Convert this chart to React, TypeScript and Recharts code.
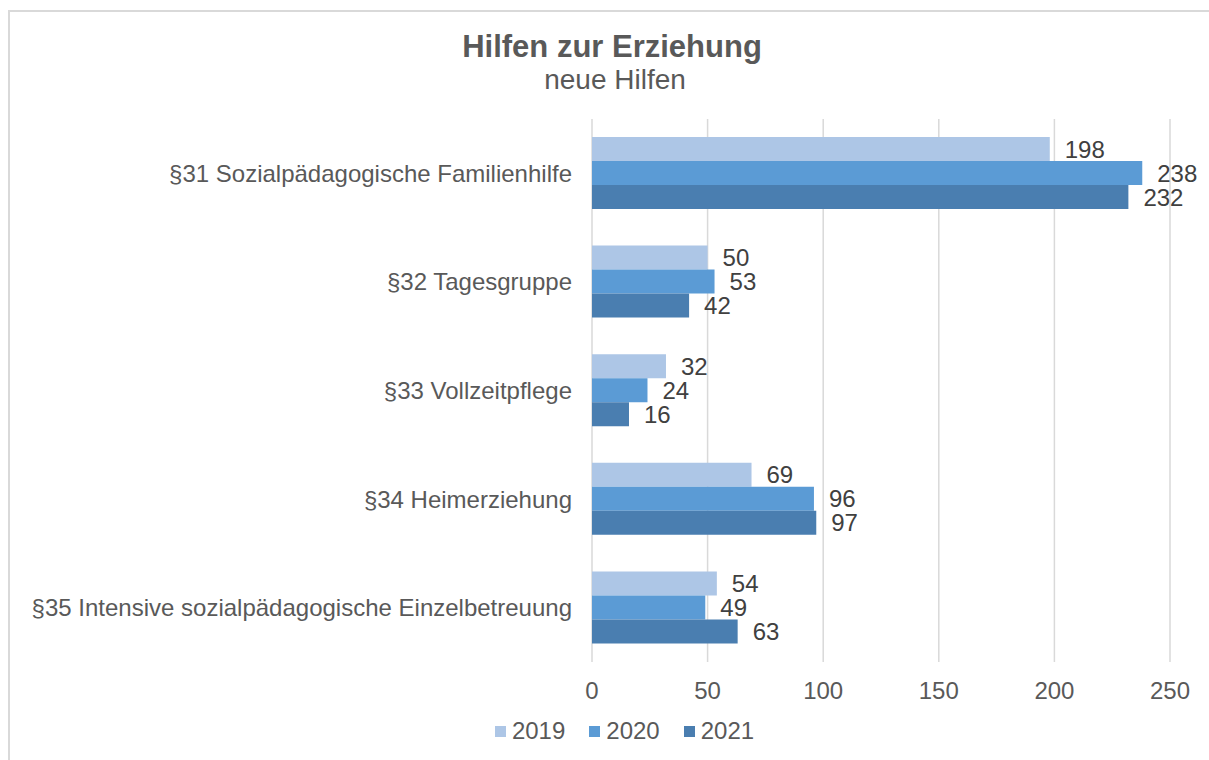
import React from 'react';
import {
  BarChart,
  Bar,
  XAxis,
  YAxis,
  CartesianGrid,
  Legend,
  LabelList,
} from 'recharts';

const categories = [
  '§31 Sozialpädagogische Familienhilfe',
  '§32 Tagesgruppe',
  '§33 Vollzeitpflege',
  '§34 Heimerziehung',
  '§35 Intensive sozialpädagogische Einzelbetreuung',
];
const values2019 = [198, 50, 32, 69, 54];
const values2020 = [238, 53, 24, 96, 49];
const values2021 = [232, 42, 16, 97, 63];
const xTicks = [0, 50, 100, 150, 200, 250];

const series = [
  { key: 'y2019', name: '2019', color: '#adc6e6' },
  { key: 'y2020', name: '2020', color: '#5b9bd5' },
  { key: 'y2021', name: '2021', color: '#4a7eb0' },
];

const FONT = '"Liberation Sans", Arial, sans-serif';

function LegendContent() {
  return (
    <div style={{ display: 'flex', justifyContent: 'center', alignItems: 'center', gap: 24, fontFamily: FONT, fontSize: 24, color: '#595959', lineHeight: '30px', paddingLeft: 40 }}>
      {series.map(s => (
        <div key={s.key} style={{ display: 'flex', alignItems: 'center' }}>
          <span style={{ display: 'inline-block', width: 11, height: 11, background: s.color, marginRight: 6 }} />
          <span>{s.name}</span>
        </div>
      ))}
    </div>
  );
}

export default function App() {
  const data = React.useMemo(
    () =>
      categories.map((name, i) => ({
        name,
        y2019: values2019[i],
        y2020: values2020[i],
        y2021: values2021[i],
      })),
    []
  );

  return (
    <div style={{ position: 'fixed', left: 0, top: 0, width: 1209, height: 760, overflow: 'hidden', background: '#fff' }}>
      <div style={{ position: 'absolute', left: 8, top: 10, width: 1240, height: 800, borderTop: '2px solid #d9d9d9', borderLeft: '2px solid #d9d9d9' }} />
      <div style={{ position: 'absolute', left: 0, width: 1224, top: 31, textAlign: 'center', fontFamily: FONT, fontSize: 31, fontWeight: 'bold', lineHeight: '31px', color: '#595959' }}>
        Hilfen zur Erziehung
      </div>
      <div style={{ position: 'absolute', left: 0, width: 1230, top: 66, textAlign: 'center', fontFamily: FONT, fontSize: 28, lineHeight: '28px', color: '#595959' }}>
        neue Hilfen
      </div>
      <div style={{ position: 'absolute', left: 0, top: 0 }}>
        <BarChart
          width={1209}
          height={760}
          data={data}
          layout="vertical"
          margin={{ top: 119, right: 39, left: 0, bottom: 28 }}
          barGap={0}
          style={{ fontFamily: FONT }}
        >
          <CartesianGrid horizontal={false} stroke="#d9d9d9" strokeWidth={1.5} />
          <XAxis
            type="number"
            domain={[0, 250]}
            ticks={xTicks}
            height={40}
            tickLine={false}
            axisLine={false}
            tickMargin={14}
            tick={{ fill: '#595959', fontSize: 24 }}
          />
          <YAxis
            type="category"
            dataKey="name"
            width={592}
            tickLine={false}
            axisLine={false}
            tickMargin={14}
            interval={0}
            tick={{ fill: '#595959', fontSize: 24 }}
          />
          <Legend
            verticalAlign="bottom"
            content={<LegendContent />}
            wrapperStyle={{ top: 716, left: 0, width: 1209, height: 30 }}
          />
          {series.map(s => (
            <Bar key={s.key} dataKey={s.key} name={s.name} fill={s.color} barSize={24} isAnimationActive={false}>
              <LabelList dataKey={s.key} position="right" offset={15} fill="#404040" fontSize={24} />
            </Bar>
          ))}
        </BarChart>
      </div>
    </div>
  );
}
